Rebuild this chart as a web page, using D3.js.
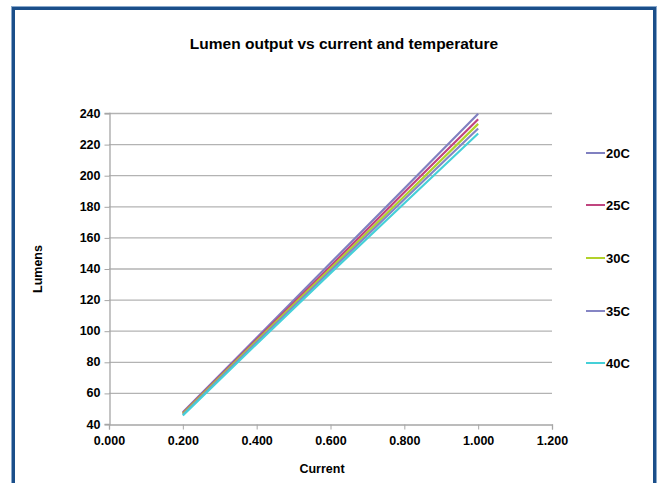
<!DOCTYPE html>
<html><head><meta charset="utf-8">
<script src="https://cdn.jsdelivr.net/npm/d3@7"></script>
<style>body{margin:0;background:#fff}svg{display:block;font-family:"Liberation Sans",Arial,sans-serif}</style>
</head><body>
<script>
const current = [0.2, 0.4, 0.6, 0.8, 1.0];
const seriesNames = ["20C", "25C", "30C", "35C", "40C"];
const lumens20 = [47.5, 95.5, 143.5, 191.5, 239.5];
const lumens25 = [47.0, 94.5, 141.5, 189.0, 236.0];
const lumens30 = [46.5, 93.5, 140.0, 186.5, 233.0];
const lumens35 = [46.0, 92.5, 138.5, 184.5, 230.0];
const lumens40 = [45.5, 91.5, 137.0, 182.0, 226.8];
const colors = ["#8080c0", "#c0457f", "#b2d12a", "#8585c4", "#45d0d8"];
const xTicks = [0, 0.2, 0.4, 0.6, 0.8, 1.0, 1.2];
const yTicks = [40, 60, 80, 100, 120, 140, 160, 180, 200, 220, 240];

const W = 660, H = 483;
const svg = d3.select("body").append("svg").attr("width", W).attr("height", H);

// frame
svg.append("rect").attr("x", 13.5).attr("y", 8.5).attr("width", 641).attr("height", 490)
  .attr("fill", "#fff").attr("stroke", "#1b4f8a").attr("stroke-width", 3);
svg.append("rect").attr("x", 11.5).attr("y", 6.5).attr("width", 645).attr("height", 494)
  .attr("fill", "none").attr("stroke", "#8aa9cc").attr("stroke-width", 1);

const L = 109, R = 552, T = 113, B = 424;
const x = d3.scaleLinear().domain([0, 1.2]).range([L, R]);
const y = d3.scaleLinear().domain([40, 240]).range([B, T]);

// gridlines
svg.append("g").selectAll("line").data(yTicks.slice(1)).join("line")
  .attr("x1", L).attr("x2", R).attr("y1", d => y(d) + 0.5).attr("y2", d => y(d) + 0.5)
  .attr("stroke", "#b3b3b3").attr("stroke-width", 1.3);

// y axis
const yAxis = svg.append("g").attr("transform", `translate(${L + 0.5},0)`)
  .call(d3.axisLeft(y).tickValues(yTicks).tickFormat(d3.format("d")).tickSize(5).tickPadding(4));
yAxis.select(".domain").attr("stroke", "#a6a6a6").attr("stroke-width", 1.3);
yAxis.selectAll(".tick line").attr("stroke", "#a6a6a6").attr("transform", "translate(0,0.5)");
yAxis.selectAll("text").attr("font-size", 12.5).attr("font-weight", "bold").attr("fill", "#000")
  .attr("font-family", "Liberation Sans, Arial, sans-serif");

// x axis
const xAxis = svg.append("g").attr("transform", `translate(0,${B + 0.5})`)
  .call(d3.axisBottom(x).tickValues(xTicks).tickFormat(d3.format(".3f")).tickSize(5).tickPadding(7));
xAxis.select(".domain").attr("stroke", "#a6a6a6").attr("stroke-width", 1.3);
xAxis.selectAll(".tick line").attr("stroke", "#a6a6a6");
xAxis.selectAll("text").attr("font-size", 12.5).attr("font-weight", "bold").attr("fill", "#000")
  .attr("font-family", "Liberation Sans, Arial, sans-serif");

// lines
const allSeries = [lumens20, lumens25, lumens30, lumens35, lumens40];
const line = d3.line().x((d, i) => x(current[i])).y(d => y(d));
svg.append("g").selectAll("path").data(allSeries).join("path")
  .attr("d", d => line(d)).attr("fill", "none")
  .attr("stroke", (d, i) => colors[i]).attr("stroke-width", 2.2);

// title
svg.append("text").attr("x", 344).attr("y", 49).attr("text-anchor", "middle")
  .attr("font-size", 15.5).attr("font-weight", "bold").text("Lumen output vs current and temperature");
// axis titles
svg.append("text").attr("x", 322).attr("y", 473).attr("text-anchor", "middle")
  .attr("font-size", 12.5).attr("font-weight", "bold").text("Current");
svg.append("text").attr("transform", "translate(42,269) rotate(-90)").attr("text-anchor", "middle")
  .attr("font-size", 12.5).attr("font-weight", "bold").text("Lumens");

// legend
const legY = [153, 205, 258, 311, 363];
const leg = svg.append("g").selectAll("g").data(seriesNames).join("g")
  .attr("transform", (d, i) => `translate(586,${legY[i]})`);
leg.append("line").attr("x1", 0).attr("x2", 19).attr("y1", 0).attr("y2", 0)
  .attr("stroke", (d, i) => colors[i]).attr("stroke-width", 2);
leg.append("text").attr("x", 20).attr("y", 4.5).attr("font-size", 13).attr("font-weight", "bold").text(d => d);
</script>
</body></html>
